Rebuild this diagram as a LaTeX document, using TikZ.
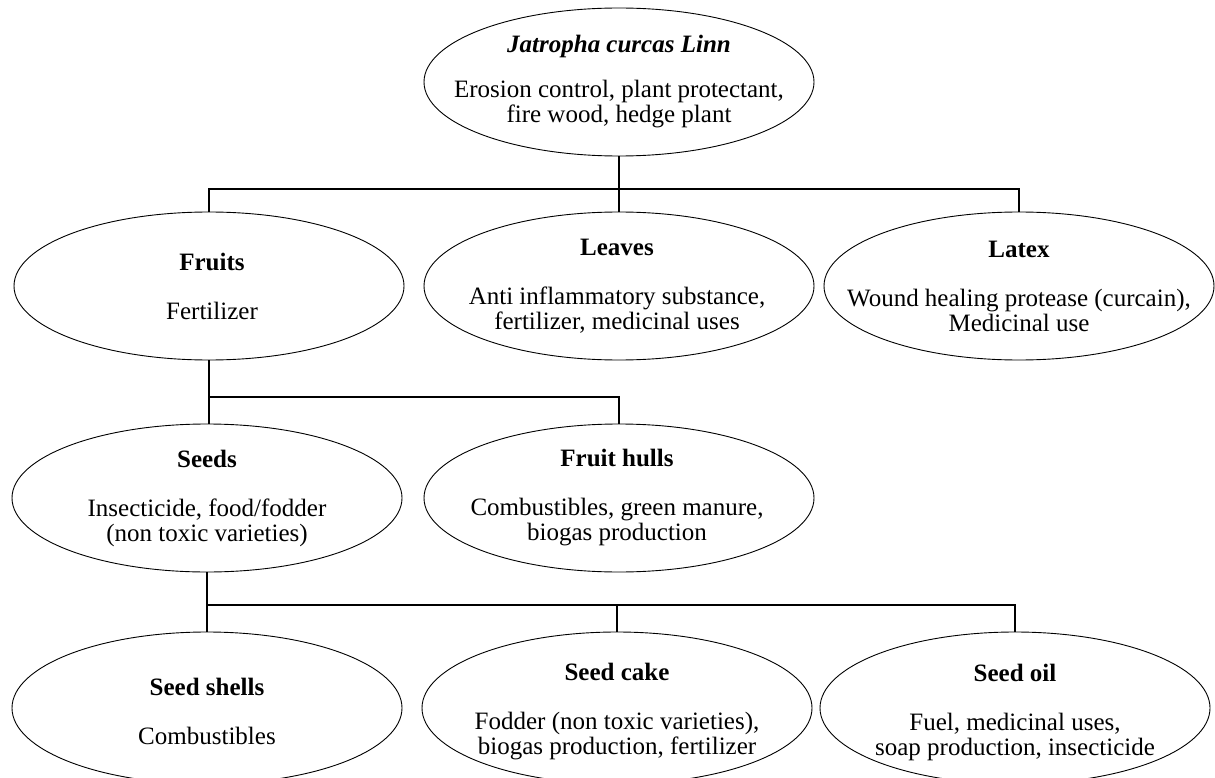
\documentclass[tikz,border=0pt]{standalone}
\usepackage{fontspec}
\setmainfont{Liberation Serif}
\usepackage{tikz}
\usetikzlibrary{shapes.geometric, positioning}

\begin{document}
\begin{tikzpicture}[x=1pt, y=-1pt,
    part/.style={ellipse, draw, line width=0.9pt, minimum width=390pt, minimum height=148pt, inner sep=0pt},
    txt/.style={align=center, inner sep=0pt, font=\fontsize{25}{25}\selectfont},
    link/.style={line width=2pt}]
    % 0. Khung hình
    \useasboundingbox (0,0) rectangle (1215,778);

    % 1. Cây Jatropha (gốc)
    \node[part] (plant) at (619,82) {};
    \node[txt] (plant-t) at (plant) {\textbf{\textit{Jatropha curcas Linn}}\\[20pt]Erosion control, plant protectant,\\fire wood, hedge plant};

    % 2. Hàng thứ hai: quả, lá, nhựa
    \node[part] (fruits) at (209,286) {};
    \node[txt] (fruits-t) at ([xshift=3pt]fruits) {\textbf{Fruits}\\[24pt]Fertilizer};
    \node[part] (leaves) at (619,286) {};
    \node[txt] (leaves-t) at ([xshift=-2pt]leaves) {\textbf{Leaves}\\[24pt]Anti inflammatory substance,\\fertilizer, medicinal uses};
    \node[part] (latex) at (1019,286) {};
    \node[txt] (latex-t) at (latex) {\textbf{Latex}\\[24pt]Wound healing protease (curcain),\\Medicinal use};

    % 3. Hàng thứ ba: hạt, vỏ quả
    \node[part] (seeds) at (207,498) {};
    \node[txt] (seeds-t) at (seeds) {\textbf{Seeds}\\[24pt]Insecticide, food/fodder\\(non toxic varieties)};
    \node[part] (hulls) at (619,498) {};
    \node[txt] (hulls-t) at ([xshift=-2pt]hulls) {\textbf{Fruit hulls}\\[24pt]Combustibles, green manure,\\biogas production};

    % 4. Hàng cuối: vỏ hạt, bã, dầu
    \node[part, minimum height=152pt] (shells) at (207,708) {};
    \node[txt] (shells-t) at ([yshift=-3pt]shells) {\textbf{Seed shells}\\[24pt]Combustibles};
    \node[part, minimum height=152pt] (cake) at (617,708) {};
    \node[txt] (cake-t) at ([yshift=-4pt]cake) {\textbf{Seed cake}\\[24pt]Fodder (non toxic varieties),\\biogas production, fertilizer};
    \node[part, minimum height=152pt] (oil) at (1015,708) {};
    \node[txt] (oil-t) at ([yshift=-4pt]oil) {\textbf{Seed oil}\\[24pt]Fuel, medicinal uses,\\soap production, insecticide};

    % 5. Các đường nối
    \coordinate (bus1) at (619,189);
    \coordinate (bus2) at (207,397);
    \coordinate (bus3) at (207,605);
    \draw[link] (plant.south) -- (bus1);
    \draw[link] (fruits.north) |- (bus1) -| (latex.north);
    \draw[link] (bus1) -- (leaves.north);
    \draw[link] (fruits.south) -- (fruits.south |- seeds.north);
    \draw[link] (fruits.south |- bus2) -| (hulls.north);
    \draw[link] (seeds.south) -- (shells.north);
    \draw[link] (bus3) -| (oil.north);
    \draw[link] (cake.north) -- (cake.north |- bus3);
\end{tikzpicture}
\end{document}
